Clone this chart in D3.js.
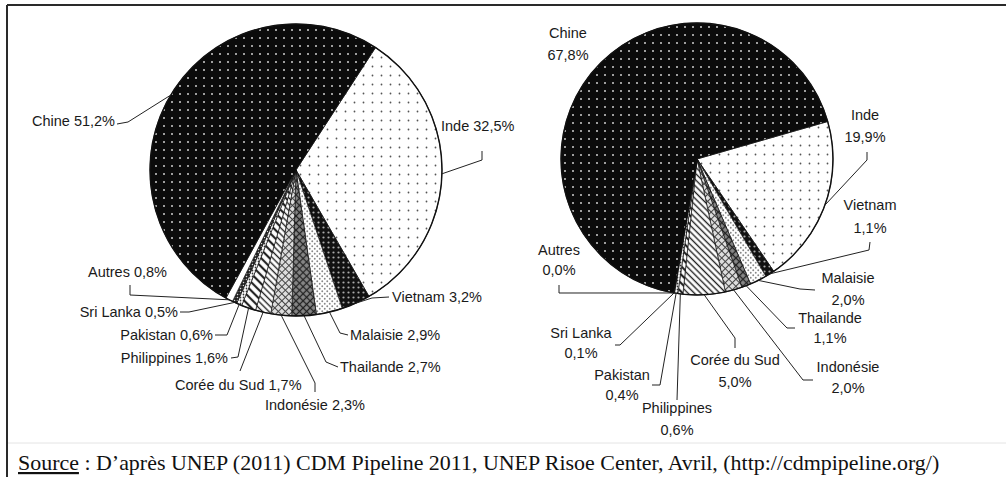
<!doctype html>
<html>
<head>
<meta charset="utf-8">
<script src="https://d3js.org/d3.v7.min.js"></script>
<style>
  body { margin: 0; padding: 0; background: #fff; }
  svg { display: block; }
  .lbl { font-family: "Liberation Sans", Arial, sans-serif; font-size: 14.5px; fill: #1a1a1a; }
  .lead { fill: none; stroke: #222; stroke-width: 1; }
  .src { font-family: "Liberation Serif", "Times New Roman", serif; font-size: 19px; fill: #111; }
</style>
</head>
<body>
<div id="chart"></div>
<script>
// slices in clockwise order, starting with Inde
var categories = ["Inde", "Vietnam", "Malaisie", "Thailande", "Indonésie", "Corée du Sud",
                  "Philippines", "Pakistan", "Sri Lanka", "Autres", "Chine"];
var shareLeft  = [32.5, 3.2, 2.9, 2.7, 2.3, 1.7, 1.6, 0.6, 0.5, 0.8, 51.2];
var shareRight = [19.9, 1.1, 2.0, 1.1, 2.0, 5.0, 0.6, 0.4, 0.1, 0.0, 67.8];
var sourceLabel = "Source";
var sourceRest = " : D\u2019après UNEP (2011) CDM Pipeline 2011, UNEP Risoe Center, Avril, (http://cdmpipeline.org/)";

// label placement (layout only)
var layoutLeft = {
  "Chine":        {x: 115, y: 126, a: "end",   lead: [[117, 124], [128, 122]]},
  "Inde":         {x: 441, y: 131, a: "start", lead: [[482, 151], [482, 160]]},
  "Vietnam":      {x: 392, y: 302, a: "start", lead: [[389, 297], [372, 298]]},
  "Malaisie":     {x: 350, y: 340, a: "start", lead: [[348, 335], [340, 333]]},
  "Thailande":    {x: 340, y: 372, a: "start", lead: [[338, 367], [326, 362]]},
  "Indonésie":    {x: 265, y: 410, a: "start", lead: [[315, 392], [315, 383]]},
  "Corée du Sud": {x: 175, y: 390, a: "start", lead: [[240, 371]]},
  "Philippines":  {x: 228, y: 363, a: "end",   lead: [[231, 358], [238, 357]]},
  "Pakistan":     {x: 213, y: 340, a: "end",   lead: [[215, 335], [227, 335]]},
  "Sri Lanka":    {x: 178, y: 317, a: "end",   lead: [[180, 312], [189, 312]]},
  "Autres":       {x: 88,  y: 277, a: "start", lead: [[130, 285], [130, 295]]}
};
var layoutRight = {
  "Chine":        {x: 568, y: [38, 60],   lead: null},
  "Inde":         {x: 865, y: [120, 142], lead: [[867, 152], [867, 160]]},
  "Vietnam":      {x: 870, y: [210, 233], lead: [[870, 242], [869, 250]]},
  "Malaisie":     {x: 848, y: [283, 305], lead: [[815, 290], [800, 289]]},
  "Thailande":    {x: 830, y: [323, 343], lead: [[795, 328], [787, 328]]},
  "Indonésie":    {x: 848, y: [372, 393], lead: [[813, 380], [803, 380]]},
  "Corée du Sud": {x: 735, y: [365, 387], lead: [[735, 348], [735, 338]]},
  "Philippines":  {x: 677, y: [413, 435], lead: [[677, 400]]},
  "Pakistan":     {x: 622, y: [380, 400], lead: [[652, 385], [660, 385]]},
  "Sri Lanka":    {x: 581, y: [338, 358], lead: [[615, 345], [620, 345]]},
  "Autres":       {x: 559, y: [255, 275], lead: [[559, 285], [559, 293]]}
};

var W = 1006, H = 477;
var svg = d3.select("#chart").append("svg").attr("width", W).attr("height", H);
var defs = svg.append("defs");
var fmt = function(v) { return d3.format(".1f")(v).replace(".", ",") + "%"; };

function pattern(id, size, bg, rot) {
  var p = defs.append("pattern").attr("id", id)
    .attr("patternUnits", "userSpaceOnUse")
    .attr("width", size).attr("height", size);
  if (rot) p.attr("patternTransform", "rotate(" + rot + ")");
  p.append("rect").attr("width", size).attr("height", size).attr("fill", bg);
  return p;
}
function dots(p, pts, r, c) {
  pts.forEach(function(q) { p.append("circle").attr("cx", q[0]).attr("cy", q[1]).attr("r", r).attr("fill", c); });
}
function stripes(p, size, w, c) {
  p.append("line").attr("x1", size / 2).attr("x2", size / 2).attr("y1", 0).attr("y2", size)
    .attr("stroke", c).attr("stroke-width", w);
}

// one fill per category, in category order
var p;
p = pattern("pat0", 9, "#fff");            dots(p, [[4.5, 4.5]], 0.9, "#555");           // Inde
p = pattern("pat1", 5, "#111");            dots(p, [[2.5, 2.5]], 1.1, "#aaa");           // Vietnam
p = pattern("pat2", 5, "#fff");            dots(p, [[1.25, 1.25], [3.75, 3.75]], 0.95, "#888"); // Malaisie
p = pattern("pat3", 5, "#888", 45);        stripes(p, 5, 1.3, "#222");                   // Thailande
  p.append("line").attr("x1", 0).attr("x2", 5).attr("y1", 2.5).attr("y2", 2.5).attr("stroke", "#222").attr("stroke-width", 1.3);
p = pattern("pat4", 5, "#ddd", 45);        stripes(p, 5, 1, "#444");                     // Indonésie
  p.append("line").attr("x1", 0).attr("x2", 5).attr("y1", 2.5).attr("y2", 2.5).attr("stroke", "#444").attr("stroke-width", 1);
p = pattern("pat5", 4.5, "#fff", -45);     stripes(p, 4.5, 1.4, "#222");                 // Corée du Sud
p = pattern("pat6", 6, "#fff", -45);       stripes(p, 6, 2.2, "#222");                   // Philippines
p = pattern("pat7", 3, "#fff");            dots(p, [[1.5, 1.5]], 0.9, "#333");           // Pakistan
p = pattern("pat8", 3, "#222");            dots(p, [[1.5, 1.5]], 0.8, "#ddd");           // Sri Lanka
p = pattern("pat9", 4, "#fff");                                                          // Autres
p = pattern("pat10", 8, "#0b0b0b");        dots(p, [[4, 4]], 1, "#d0d0d0");              // Chine

// frame
svg.append("line").attr("x1", 7).attr("x2", W).attr("y1", 5).attr("y2", 5).attr("stroke", "#2a2a2a").attr("stroke-width", 2);
svg.append("line").attr("x1", 7).attr("x2", 7).attr("y1", 5).attr("y2", H).attr("stroke", "#2a2a2a").attr("stroke-width", 2);
svg.append("line").attr("x1", 8).attr("x2", W).attr("y1", 443).attr("y2", 443).attr("stroke", "#e4e4e4").attr("stroke-width", 1);

function drawPie(values, cx, cy, r, startDeg, layout, twoLines) {
  var a0 = startDeg * Math.PI / 180;
  var pie = d3.pie().sort(null).value(function(d) { return d; })
    .startAngle(a0).endAngle(a0 + 2 * Math.PI);
  var arc = d3.arc().innerRadius(0).outerRadius(r);
  var arcs = pie(values);
  var g = svg.append("g").attr("transform", "translate(" + cx + "," + cy + ")");

  g.selectAll("path.slice").data(arcs).enter().append("path")
    .attr("class", "slice")
    .attr("d", arc)
    .attr("fill", function(d, i) { return "url(#pat" + i + ")"; })
    .attr("stroke", "#111").attr("stroke-width", 0.7);
  g.append("circle").attr("r", r).attr("fill", "none").attr("stroke", "#111").attr("stroke-width", 1.4);

  var line = d3.line();
  arcs.forEach(function(d, i) {
    var name = categories[i], L = layout[name];
    var mid = (d.startAngle + d.endAngle) / 2;
    var rim = [cx + r * Math.sin(mid), cy - r * Math.cos(mid)];
    if (L.lead) {
      svg.append("path").attr("class", "lead")
        .attr("d", line(L.lead.concat([rim])));
    }
    if (twoLines) {
      var t = svg.append("text").attr("class", "lbl").attr("text-anchor", "middle");
      t.append("tspan").attr("x", L.x).attr("y", L.y[0]).text(name);
      t.append("tspan").attr("x", L.x).attr("y", L.y[1]).text(fmt(values[i]));
    } else {
      svg.append("text").attr("class", "lbl").attr("x", L.x).attr("y", L.y)
        .attr("text-anchor", L.a).text(name + " " + fmt(values[i]));
    }
  });
}

drawPie(shareLeft, 296, 170, 146, 33, layoutLeft, false);
drawPie(shareRight, 697, 159, 136, 74, layoutRight, true);

// source line
var src = svg.append("text").attr("class", "src").attr("x", 18).attr("y", 470);
src.append("tspan").attr("text-decoration", "underline").text(sourceLabel);
src.append("tspan").text(sourceRest);
var len = src.node().getComputedTextLength();
src.style("font-size", (19 * 922 / len) + "px");
</script>
</body>
</html>
